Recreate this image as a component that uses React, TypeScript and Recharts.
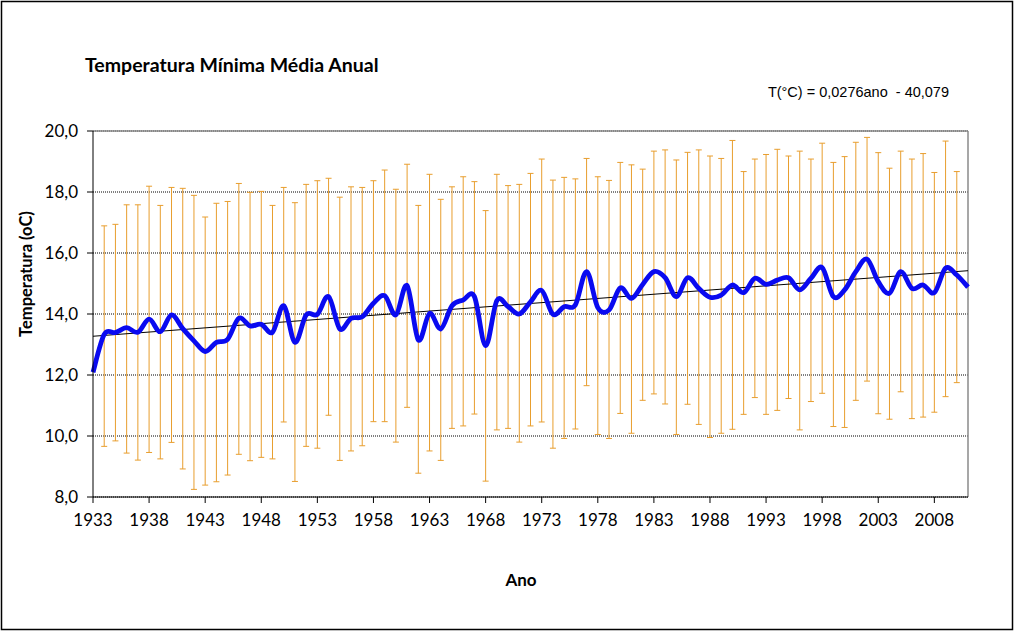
import React from "react";
import {
  ComposedChart,
  Line,
  XAxis,
  YAxis,
  CartesianGrid,
  ErrorBar,
  ReferenceLine,
} from "recharts";

const years = [
  1933, 1934, 1935, 1936, 1937, 1938, 1939, 1940, 1941, 1942,
  1943, 1944, 1945, 1946, 1947, 1948, 1949, 1950, 1951, 1952,
  1953, 1954, 1955, 1956, 1957, 1958, 1959, 1960, 1961, 1962,
  1963, 1964, 1965, 1966, 1967, 1968, 1969, 1970, 1971, 1972,
  1973, 1974, 1975, 1976, 1977, 1978, 1979, 1980, 1981, 1982,
  1983, 1984, 1985, 1986, 1987, 1988, 1989, 1990, 1991, 1992,
  1993, 1994, 1995, 1996, 1997, 1998, 1999, 2000, 2001, 2002,
  2003, 2004, 2005, 2006, 2007, 2008, 2009, 2010, 2011,
];

const meanTemp = [
  12.09, 13.33, 13.39, 13.55, 13.4, 13.83, 13.42, 13.97, 13.52, 13.12,
  12.77, 13.07, 13.17, 13.86, 13.61, 13.66, 13.4, 14.27, 13.07, 13.97,
  13.99, 14.57, 13.51, 13.86, 13.91, 14.35, 14.6, 13.97, 14.93, 13.15,
  14.02, 13.51, 14.27, 14.46, 14.57, 12.96, 14.44, 14.24, 14.0, 14.4,
  14.77, 13.99, 14.24, 14.3, 15.39, 14.21, 14.13, 14.86, 14.51, 14.97,
  15.39, 15.19, 14.57, 15.19, 14.84, 14.55, 14.62, 14.95, 14.7, 15.17,
  14.97, 15.11, 15.19, 14.79, 15.17, 15.52, 14.57, 14.79, 15.39, 15.8,
  15.06, 14.68, 15.39, 14.84, 14.95, 14.7, 15.5, 15.28, 14.88,
];

const maxTemp = [
  null, 16.89, 16.94, 17.58, 17.58, 18.19, 17.56, 18.15, 18.12, 17.89,
  17.18, 17.63, 17.69, 18.28, 17.99, 18.02, 17.56, 18.15, 17.65, 18.25,
  18.37, 18.45, 17.83, 18.17, 18.15, 18.37, 18.72, 18.09, 18.91, 17.56,
  18.58, 17.76, 18.17, 18.5, 18.34, 17.39, 18.58, 18.21, 18.25, 18.61,
  19.08, 18.39, 18.48, 18.43, 19.1, 18.5, 18.38, 18.97, 18.89, 18.75,
  19.34, 19.38, 19.05, 19.3, 19.38, 19.18, 19.1, 19.69, 18.67, 19.08,
  19.23, 19.4, 19.18, 19.34, 19.08, 19.6, 18.97, 19.16, 19.63, 19.79,
  19.29, 18.78, 19.34, 19.08, 19.26, 18.64, 19.67, 18.67, null,
];

const minTemp = [
  null, 9.66, 9.84, 9.44, 9.21, 9.46, 9.25, 9.79, 8.92, 8.25,
  8.39, 8.5, 8.72, 9.4, 9.19, 9.3, 9.25, 10.46, 8.51, 9.66,
  9.6, 10.68, 9.2, 9.51, 9.68, 10.47, 10.47, 9.8, 10.94, 8.78,
  9.51, 9.2, 10.25, 10.33, 10.72, 8.52, 10.2, 10.25, 9.8, 10.33,
  10.46, 9.6, 9.92, 10.23, 11.65, 10.05, 9.92, 10.74, 10.09, 11.17,
  11.38, 11.05, 10.05, 11.04, 10.38, 9.95, 10.09, 10.22, 10.71, 11.26,
  10.71, 10.84, 11.23, 10.2, 11.13, 11.4, 10.31, 10.28, 11.17, 11.8,
  10.73, 10.55, 11.45, 10.57, 10.62, 10.78, 11.29, 11.75, null,
];

// Trend line end points (T(°C) = 0,0276ano - 40,079), read at first and last year
const trendYears = [1933, 2011];
const trendValues = [13.27, 15.42];

const xTicks = [1933, 1938, 1943, 1948, 1953, 1958, 1963, 1968, 1973, 1978, 1983, 1988, 1993, 1998, 2003, 2008];
const yTicks = [8, 10, 12, 14, 16, 18, 20];

const data = years.map((year, i) => {
  const mean = meanTemp[i];
  const hi = maxTemp[i];
  const lo = minTemp[i];
  const ti = trendYears.indexOf(year);
  return {
    year,
    mean,
    err: hi == null || lo == null ? null : [mean - lo, hi - mean],
    trend: ti >= 0 ? trendValues[ti] : null,
  };
});

// Excel-like smoothed line (Catmull-Rom through the points)
function smoothCurve(context: any) {
  let pts: [number, number][] = [];
  return {
    areaStart() {},
    areaEnd() {},
    lineStart() {
      pts = [];
    },
    lineEnd() {
      const n = pts.length;
      if (n === 0) return;
      context.moveTo(pts[0][0], pts[0][1]);
      for (let i = 0; i < n - 1; i++) {
        const p0 = pts[i - 1] || pts[i];
        const p1 = pts[i];
        const p2 = pts[i + 1];
        const p3 = pts[i + 2] || pts[i + 1];
        const c1x = p1[0] + (p2[0] - p0[0]) / 6;
        const c1y = p1[1] + (p2[1] - p0[1]) / 6;
        const c2x = p2[0] - (p3[0] - p1[0]) / 6;
        const c2y = p2[1] - (p3[1] - p1[1]) / 6;
        context.bezierCurveTo(c1x, c1y, c2x, c2y, p2[0], p2[1]);
      }
    },
    point(x: number, y: number) {
      pts.push([+x, +y]);
    },
  };
}

const tickFont = { fontFamily: "Lato, sans-serif", fontSize: 17, fill: "#000" };

export default function App() {
  return (
    <div style={{ position: "absolute", left: 0, top: 0, width: 1015, height: 633, background: "#fff" }}>
      <ComposedChart
        width={1015}
        height={633}
        data={data}
        margin={{ top: 131, right: 47, bottom: 106, left: 33 }}
      >
        <CartesianGrid vertical={false} stroke="#000" strokeDasharray="1 1" />
        <XAxis
          dataKey="year"
          type="number"
          domain={[1933, 2011]}
          ticks={xTicks}
          interval={0}
          height={30}
          tickSize={6}
          tickMargin={11}
          axisLine={{ stroke: "#000" }}
          tickLine={{ stroke: "#000" }}
          tick={tickFont}
        />
        <YAxis
          type="number"
          domain={[8, 20]}
          ticks={yTicks}
          interval={0}
          width={60}
          tickSize={6}
          tickMargin={9}
          axisLine={{ stroke: "#000" }}
          tickLine={{ stroke: "#000" }}
          tick={tickFont}
          tickFormatter={(v: number) => v.toFixed(1).replace(".", ",")}
        />
        <ReferenceLine y={20} stroke="#8a8a8a" strokeWidth={1.5} />
        <ReferenceLine x={2011} stroke="#8a8a8a" strokeWidth={1.5} />
        <Line
          dataKey="mean"
          stroke="none"
          dot={false}
          activeDot={false}
          isAnimationActive={false}
        >
          <ErrorBar dataKey="err" stroke="#E89E2E" strokeWidth={1} width={3} direction="y" isAnimationActive={false} />
        </Line>
        <Line
          dataKey="trend"
          type="linear"
          stroke="#000"
          strokeWidth={1}
          connectNulls
          dot={false}
          activeDot={false}
          isAnimationActive={false}
        />
        <Line
          dataKey="mean"
          type={smoothCurve as any}
          stroke="#0A0AF0"
          strokeWidth={4.8}
          dot={false}
          activeDot={false}
          isAnimationActive={false}
        />
      </ComposedChart>
      <svg
        width={1015}
        height={633}
        style={{ position: "absolute", left: 0, top: 0, pointerEvents: "none" }}
      >
        <rect x={1.5} y={1.5} width={1011} height={628} fill="none" stroke="#000" strokeWidth={1.5} />
        <text x={85} y={72} fontFamily="Lato, sans-serif" fontWeight="bold" fontSize={19.5} fill="#000">
          Temperatura Mínima Média Anual
        </text>
        <text
          x={949}
          y={97}
          textAnchor="end"
          fontFamily="'Liberation Sans', Arial, sans-serif"
          fontSize={14.5}
          fill="#000"
          style={{ whiteSpace: "pre" }}
        >
          {"T(°C) = 0,0276ano  - 40,079"}
        </text>
        <text
          x={521}
          y={586}
          textAnchor="middle"
          fontFamily="Lato, sans-serif"
          fontWeight="bold"
          fontSize={17}
          fill="#000"
        >
          Ano
        </text>
        <text
          transform="translate(32,274) rotate(-90)"
          textAnchor="middle"
          fontFamily="Lato, sans-serif"
          fontWeight="bold"
          fontSize={16.5}
          fill="#000"
        >
          Temperatura (oC)
        </text>
      </svg>
    </div>
  );
}
